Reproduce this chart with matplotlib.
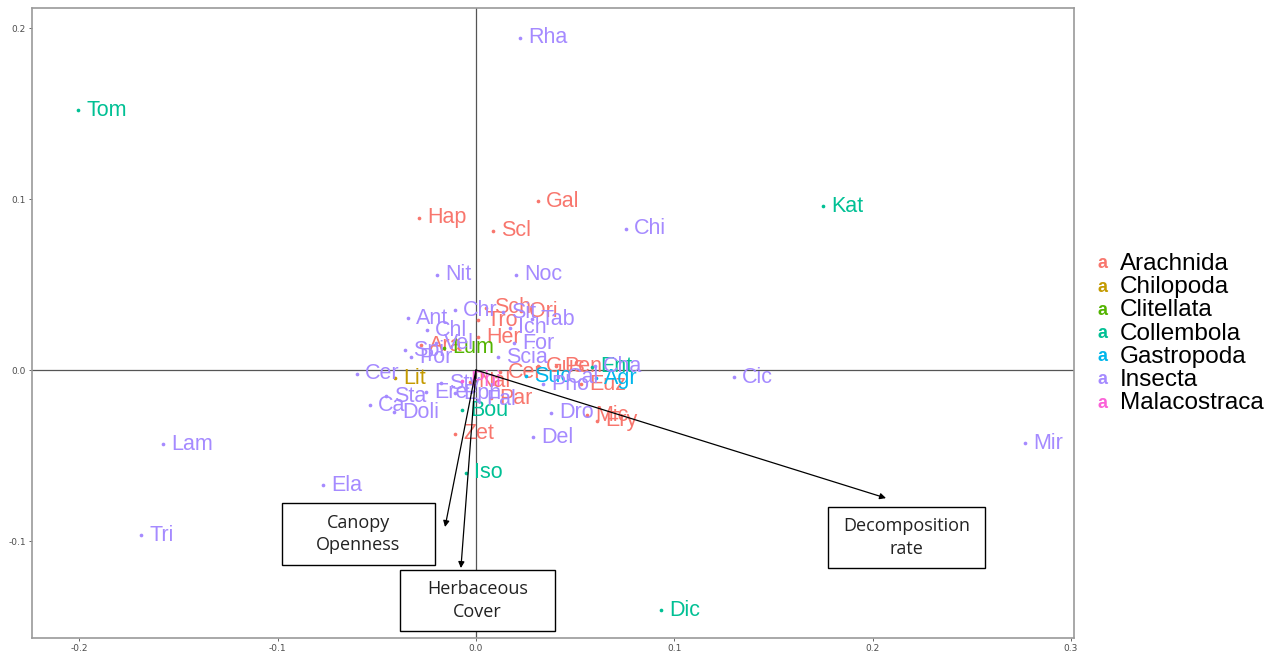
import matplotlib
matplotlib.use("Agg")
import matplotlib.pyplot as plt
from matplotlib.patches import Rectangle

# ---------------- data ----------------
classes = ["Arachnida", "Chilopoda", "Clitellata", "Collembola",
           "Gastropoda", "Insecta", "Malacostraca"]
class_colors = ["#F8766D", "#C49A00", "#53B400", "#00C094",
                "#00B6EB", "#A58AFF", "#FB61D7"]

arach_labels = ["Gal", "Hap", "Scl", "Sch", "Ori", "Tro", "Her", "Ara", "Cer",
                "Gus", "Pen", "Euz", "Nal", "Par", "Zet", "Mic", "Ery"]
arach_x = [0.0313, -0.0287, 0.0086, 0.0050, 0.0227, 0.0010, 0.0010, -0.0277, 0.0121,
           0.0313, 0.0403, 0.0530, -0.0030, 0.0076, -0.0106, 0.0560, 0.0610]
arach_y = [0.0988, 0.0889, 0.0813, 0.0363, 0.0345, 0.0292, 0.0193, 0.0146, -0.0012,
           0.0023, 0.0023, -0.0082, -0.0070, -0.0164, -0.0374, -0.0263, -0.0298]

chilo_labels = ["Lit"]
chilo_x = [-0.0408]
chilo_y = [-0.0047]

clite_labels = ["Lum"]
clite_x = [-0.0161]
clite_y = [0.0129]

colle_labels = ["Tom", "Kat", "Ent", "Bou", "Iso", "Dic"]
colle_x = [-0.2007, 0.1750, 0.0585, -0.0071, -0.0050, 0.0933]
colle_y = [0.1520, 0.0959, 0.0018, -0.0234, -0.0602, -0.1404]

gastro_labels = ["Suc", "Agr"]
gastro_x = [0.0252, 0.0605]
gastro_y = [-0.0035, -0.0047]

insect_labels = ["Rha", "Chi", "Nit", "Noc", "Cic", "Mir", "Lam", "Ela", "Tri",
                 "Del", "Dro", "Ant", "Chr", "Sit", "Tab", "Ich", "Chl", "Vel",
                 "For", "Spi", "Por", "Scia", "Cal", "Pho", "Cha", "Cer", "Sta",
                 "Ca", "Doli", "Ere", "Sty", "Fal", "Eph"]
insect_x = [0.0222, 0.0756, -0.0197, 0.0202, 0.1301, 0.2769, -0.1578, -0.0772, -0.1689,
            0.0287, 0.0378, -0.0343, -0.0106, 0.0136, 0.0282, 0.0171, -0.0247, -0.0202,
            0.0192, -0.0358, -0.0328, 0.0111, 0.0414, 0.0338, 0.0600, -0.0600, -0.0454,
            -0.0535, -0.0414, -0.0252, -0.0177, 0.0010, -0.0106]
insect_y = [0.1942, 0.0825, 0.0556, 0.0556, -0.0041, -0.0427, -0.0433, -0.0673, -0.0965,
            -0.0392, -0.0251, 0.0304, 0.0351, 0.0339, 0.0298, 0.0246, 0.0234, 0.0158,
            0.0158, 0.0117, 0.0076, 0.0076, -0.0041, -0.0082, 0.0023, -0.0023, -0.0152,
            -0.0205, -0.0246, -0.0129, -0.0076, -0.0175, -0.0135]

malaco_labels = ["Phi"]
malaco_x = [-0.0071]
malaco_y = [-0.0064]

env_labels = ["Canopy\nOpenness", "Herbaceous\nCover", "Decomposition\nrate"]
env_x = [-0.0156, -0.0076, 0.2068]
env_y = [-0.0918, -0.1158, -0.0749]

xticks = [-0.2, -0.1, 0.0, 0.1, 0.2, 0.3]
yticks = [-0.1, 0.0, 0.1, 0.2]

groups = [
    (arach_labels, arach_x, arach_y),
    (chilo_labels, chilo_x, chilo_y),
    (clite_labels, clite_x, clite_y),
    (colle_labels, colle_x, colle_y),
    (gastro_labels, gastro_x, gastro_y),
    (insect_labels, insect_x, insect_y),
    (malaco_labels, malaco_x, malaco_y),
]

# ---------------- figure ----------------
W, H = 1273, 656
fig = plt.figure(figsize=(W / 100, H / 100), dpi=100)
ax = fig.add_axes([32 / W, 1 - 638 / H, (1074 - 32) / W, (638 - 8) / H])
ax.set_xlim(-0.2239, 0.3016)
ax.set_ylim(-0.1567, 0.2117)

ax.axhline(0, color="#555555", lw=0.9, zorder=1)
ax.axvline(0, color="#555555", lw=0.9, zorder=1)

label_font = dict(family=["Liberation Sans", "DejaVu Sans"], fontsize=15.5)
for (labs, xs, ys), col in zip(groups, class_colors):
    ax.scatter(xs, ys, s=7, color=col, zorder=3, linewidths=0)
    for lab, x, y in zip(labs, xs, ys):
        ax.annotate(lab, (x, y), xytext=(6, 0), textcoords="offset points",
                    color=col, va="center", ha="left", zorder=3, **label_font)

# environmental arrows
for ex, ey in zip(env_x, env_y):
    ax.annotate("", xy=(ex, ey), xytext=(0, 0),
                arrowprops=dict(arrowstyle="-|>", color="black", lw=0.9,
                                mutation_scale=9, shrinkA=0, shrinkB=0),
                zorder=4)

# boxes for arrow labels (figure pixel positions)
boxes = [(282, 503, 435, 565), (400, 570, 555, 631), (828, 507, 985, 568)]
box_font = dict(family=["Open Sans", "DejaVu Sans"], fontsize=13)
for lab, (x0, y0, x1, y1) in zip(env_labels, boxes):
    fig.patches.append(Rectangle((x0 / W, 1 - y1 / H), (x1 - x0) / W, (y1 - y0) / H,
                                 transform=fig.transFigure, fill=True,
                                 facecolor="white", edgecolor="black", lw=1.0,
                                 zorder=5))
    fig.text((x0 + x1) / 2 / W, 1 - (y0 + y1) / 2 / H, lab, ha="center",
             va="center", color="#222222", linespacing=1.35, zorder=6, **box_font)

# axes styling
ax.set_xticks(xticks)
ax.set_yticks(yticks)
ax.set_xticklabels([f"{t:.1f}" for t in xticks])
ax.set_yticklabels([f"{t:.1f}" for t in yticks])
ax.tick_params(labelsize=6.5, colors="#4D4D4D", length=2.5, width=0.6,
               pad=2)
for sp in ax.spines.values():
    sp.set_color("#9a9a9a")
    sp.set_linewidth(1.2)

# legend drawn as text
leg_font = dict(family=["Liberation Sans", "DejaVu Sans"])
for i, (cls, col) in enumerate(zip(classes, class_colors)):
    yy = 1 - (264 + i * 23.2) / H
    fig.text(1103 / W, yy, "a", color=col, fontsize=13, fontweight="bold",
             ha="center", va="center", **leg_font)
    fig.text(1120 / W, yy, cls, color="black", fontsize=17.5,
             ha="left", va="center", **leg_font)

fig.savefig("out.png", dpi=100, facecolor="white")
